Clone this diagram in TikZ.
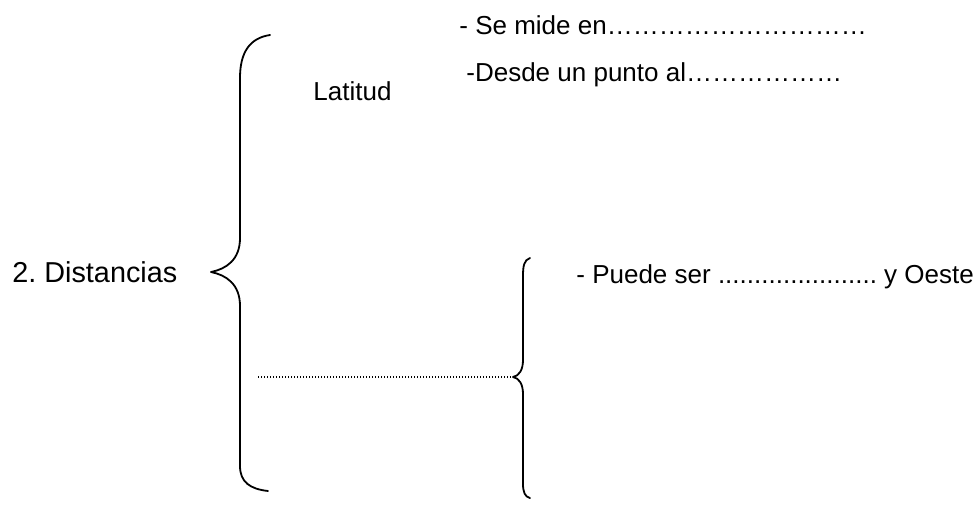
\documentclass[tikz,border=0pt]{standalone}
\usepackage{fontspec}
\setmainfont{Liberation Sans}
\usepackage{tikz}
\usetikzlibrary{positioning}
\frenchspacing
\tikzstyle{txt} = [inner sep=0pt, anchor=west, font=\fontsize{13}{15}\selectfont]
\tikzstyle{title} = [txt, font=\fontsize{14.4}{17}\selectfont]
\tikzstyle{brace} = [line width=0.9pt, line join=round, line cap=round]
\tikzstyle{blank} = [line width=0.9pt, dash pattern=on 0.6pt off 0.9pt]

\begin{document}
\begin{tikzpicture}[x=0.5pt, y=-0.5pt]
                \useasboundingbox (0,0) rectangle (979,514);

                % Texts
                \node[title] (dist) at (12,272) {2. Distancias};
                \node[txt] (lat) at (313,91) {Latitud};
                \node[txt] (mide) at (459,25) {- Se mide en…………………………};
                \node[txt] (desde) at (466,75) {-Desde un punto al………………};
                \node[txt] (puede) at (576,277) {- Puede ser ...................... y Oeste};

                % Big brace
                \draw [brace] (270,35) .. controls (250,38) and (240,52) .. (240,78)
                    -- (240,238) .. controls (240,260) and (226,269) .. (211,272)
                    .. controls (226,275) and (240,284) .. (240,306)
                    -- (240,466) .. controls (240,482) and (250,489) .. (268,491);

                % Small brace
                \coordinate (tip) at (513,377);
                \coordinate (start) at (258,377);
                \draw [brace] (530,258) .. controls (524,260) and (523,266) .. (523,276)
                    -- (523,360) .. controls (523,370) and (519,376) .. (tip)
                    .. controls (519,378) and (523,384) .. (523,394)
                    -- (523,484) .. controls (523,492) and (525,497) .. (530,498);

                % Blank to fill
                \draw [blank] (start) -- (tip);
            \end{tikzpicture}
\end{document}
